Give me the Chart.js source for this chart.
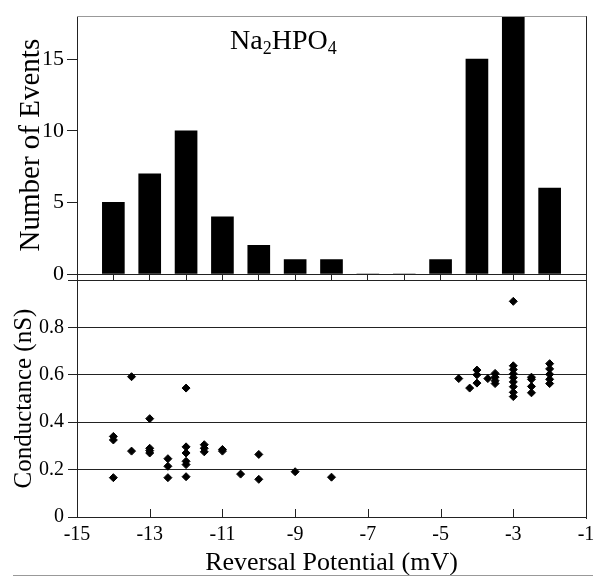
<!DOCTYPE html>
<html>
<head>
<meta charset="utf-8">
<script src="https://cdn.jsdelivr.net/npm/chart.js@4.4.1/dist/chart.umd.min.js"></script>
<style>
  html, body { margin: 0; padding: 0; background: #fff; }
  #wrap { position: relative; width: 609px; height: 579px; overflow: hidden; font-family: "Liberation Serif", serif; color: #000; }
  #top { position: absolute; left: 0; top: 0; width: 609px; height: 300px; }
  #bot { position: absolute; left: 0; top: 264px; width: 609px; height: 315px; }
  #salt { position: absolute; left: 230px; top: 26px; font-size: 28px; line-height: 28px; white-space: nowrap; }
  #salt span { font-size: 18px; vertical-align: -5px; }
  #rule { position: absolute; left: 13px; top: 575px; width: 580px; height: 0; border-top: 1px solid #999; }
</style>
</head>
<body>
<div id="wrap">
  <div id="top"><canvas id="hist"></canvas></div>
  <div id="bot"><canvas id="cond"></canvas></div>
  <div id="salt">Na<span>2</span>HPO<span>4</span></div>
  <div id="rule"></div>
</div>
<script>
'use strict';

// Histogram of reversal potentials (top panel).
var binCenters = [-14, -13, -12, -11, -10, -9, -8, -7, -6, -5, -4, -3, -2];
var eventCounts = [5, 7, 10, 4, 2, 1, 1, 0, 0, 1, 15, 18, 6];
var histTicks = [0, 5, 10, 15];
var binTicks = [-15, -14, -13, -12, -11, -10, -9, -8, -7, -6, -5, -4, -3, -2, -1];

// Conductance vs reversal potential (bottom panel), one entry per point.
var condPotential = [
  -14, -14, -14,
  -13.5, -13.5,
  -13, -13, -13, -13,
  -12.5, -12.5, -12.5,
  -12, -12, -12, -12, -12, -12,
  -11.5, -11.5, -11.5,
  -11, -11,
  -10.5,
  -10, -10,
  -9,
  -8,
  -4.5,
  -4.2,
  -4, -4, -4,
  -3.7,
  -3.5, -3.5, -3.5, -3.5,
  -3, -3, -3, -3, -3, -3, -3, -3, -3,
  -2.5, -2.5, -2.5, -2.5,
  -2, -2, -2, -2, -2
];
var condValues = [
  0.34, 0.325, 0.166,
  0.592, 0.278,
  0.415, 0.29, 0.28, 0.27,
  0.246, 0.214, 0.166,
  0.544, 0.296, 0.27, 0.235, 0.221, 0.17,
  0.305, 0.29, 0.275,
  0.285, 0.278,
  0.181,
  0.264, 0.159,
  0.191,
  0.168,
  0.584,
  0.544,
  0.62, 0.6, 0.565,
  0.584,
  0.606, 0.59, 0.575, 0.563,
  0.91, 0.638, 0.622, 0.604, 0.588, 0.57, 0.55, 0.526, 0.508,
  0.59, 0.581, 0.551, 0.524,
  0.647, 0.625, 0.602, 0.581, 0.563
];
var condTicks = [0, 0.2, 0.4, 0.6, 0.8, 1.0];
var condTickLabels = ['0', '0.2', '0.4', '0.6', '0.8', ''];
var potentialTicks = [-15, -13, -11, -9, -7, -5, -3, -1];

var SERIF = '"Liberation Serif", "Times New Roman", serif';
var INK = '#000';
var LINE = '#222';

Chart.defaults.font.family = SERIF;
Chart.defaults.color = INK;

function fixedTicks(values) {
  return function (scale) {
    scale.ticks = values.map(function (v) { return { value: v }; });
  };
}

// Right edge, optional top edge and inward x tick marks.
var framePlugin = {
  id: 'frame',
  afterDraw: function (chart, args, opts) {
    var a = chart.chartArea;
    var ctx = chart.ctx;
    var rx = Math.round(a.right) + 0.5;
    ctx.save();
    ctx.lineWidth = 1;
    ctx.strokeStyle = LINE;
    ctx.beginPath();
    ctx.moveTo(rx, a.top);
    ctx.lineTo(rx, a.bottom + 2);
    if (opts.inTicks) {
      var sx = chart.scales.x;
      opts.inTicks.forEach(function (v) {
        var px = Math.round(sx.getPixelForValue(v)) + 0.5;
        ctx.moveTo(px, a.bottom);
        ctx.lineTo(px, a.bottom - 8);
      });
    }
    ctx.stroke();
    if (opts.topEdge) {
      ctx.strokeStyle = '#999';
      ctx.beginPath();
      ctx.moveTo(a.left, Math.round(a.top) + 0.5);
      ctx.lineTo(a.right, Math.round(a.top) + 0.5);
      ctx.stroke();
    }
    ctx.restore();
  }
};

new Chart(document.getElementById('hist'), {
  type: 'bar',
  data: {
    datasets: [{
      data: binCenters.map(function (x, i) { return { x: x, y: eventCounts[i] }; }),
      backgroundColor: '#000',
      borderWidth: 0,
      barThickness: 22
    }]
  },
  options: {
    responsive: true,
    maintainAspectRatio: false,
    animation: false,
    events: [],
    layout: { padding: { top: 7, right: 23, left: 0, bottom: 0 } },
    plugins: {
      legend: { display: false },
      tooltip: { enabled: false },
      frame: { topEdge: true }
    },
    scales: {
      x: {
        type: 'linear',
        min: -15,
        max: -1,
        offset: false,
        afterBuildTicks: fixedTicks(binTicks),
        ticks: { display: false },
        grid: { offset: false, drawOnChartArea: false, drawTicks: true, tickLength: 6, color: LINE },
        border: { color: LINE, width: 1 },
        afterFit: function (s) { s.height = 26; }
      },
      y: {
        min: 0,
        max: 18,
        afterBuildTicks: fixedTicks(histTicks),
        ticks: { font: { size: 22 }, color: INK, padding: 3 },
        grid: { drawOnChartArea: false, drawTicks: true, tickLength: 10, color: LINE },
        border: { color: LINE, width: 1 },
        title: {
          display: true,
          text: 'Number of Events',
          color: INK,
          font: { size: 29 },
          padding: { top: 14, bottom: 0 }
        },
        afterFit: function (s) { s.width = 77; }
      }
    }
  },
  plugins: [framePlugin]
});

new Chart(document.getElementById('cond'), {
  type: 'scatter',
  data: {
    datasets: [{
      data: condPotential.map(function (x, i) { return { x: x, y: condValues[i] }; }),
      pointStyle: 'rectRot',
      radius: 4,
      backgroundColor: '#000',
      borderColor: '#000',
      borderWidth: 1
    }]
  },
  options: {
    responsive: true,
    maintainAspectRatio: false,
    animation: false,
    events: [],
    layout: { padding: { top: 10, right: 23, left: 0, bottom: 0 } },
    plugins: {
      legend: { display: false },
      tooltip: { enabled: false },
      frame: { inTicks: potentialTicks }
    },
    scales: {
      x: {
        type: 'linear',
        min: -15,
        max: -1,
        afterBuildTicks: fixedTicks(potentialTicks),
        ticks: { font: { size: 20 }, color: INK, padding: 6, maxRotation: 0, autoSkip: false },
        grid: { drawOnChartArea: false, drawTicks: false },
        border: { color: LINE, width: 1 },
        title: {
          display: true,
          text: 'Reversal Potential (mV)',
          color: INK,
          font: { size: 26 },
          padding: { top: 5, bottom: 0 }
        },
        afterFit: function (s) { s.height = 62; }
      },
      y: {
        min: 0,
        max: 1,
        afterBuildTicks: fixedTicks(condTicks),
        ticks: {
          font: { size: 20 },
          color: INK,
          padding: 4,
          callback: function (v, i) { return condTickLabels[i]; }
        },
        grid: { drawOnChartArea: true, drawTicks: true, tickLength: 9, color: LINE },
        border: { color: LINE, width: 1 },
        title: {
          display: true,
          text: 'Conductance (nS)',
          color: INK,
          font: { size: 25 },
          padding: { top: 9, bottom: 0 }
        },
        afterFit: function (s) { s.width = 77; }
      }
    }
  },
  plugins: [framePlugin]
});
</script>
</body>
</html>
